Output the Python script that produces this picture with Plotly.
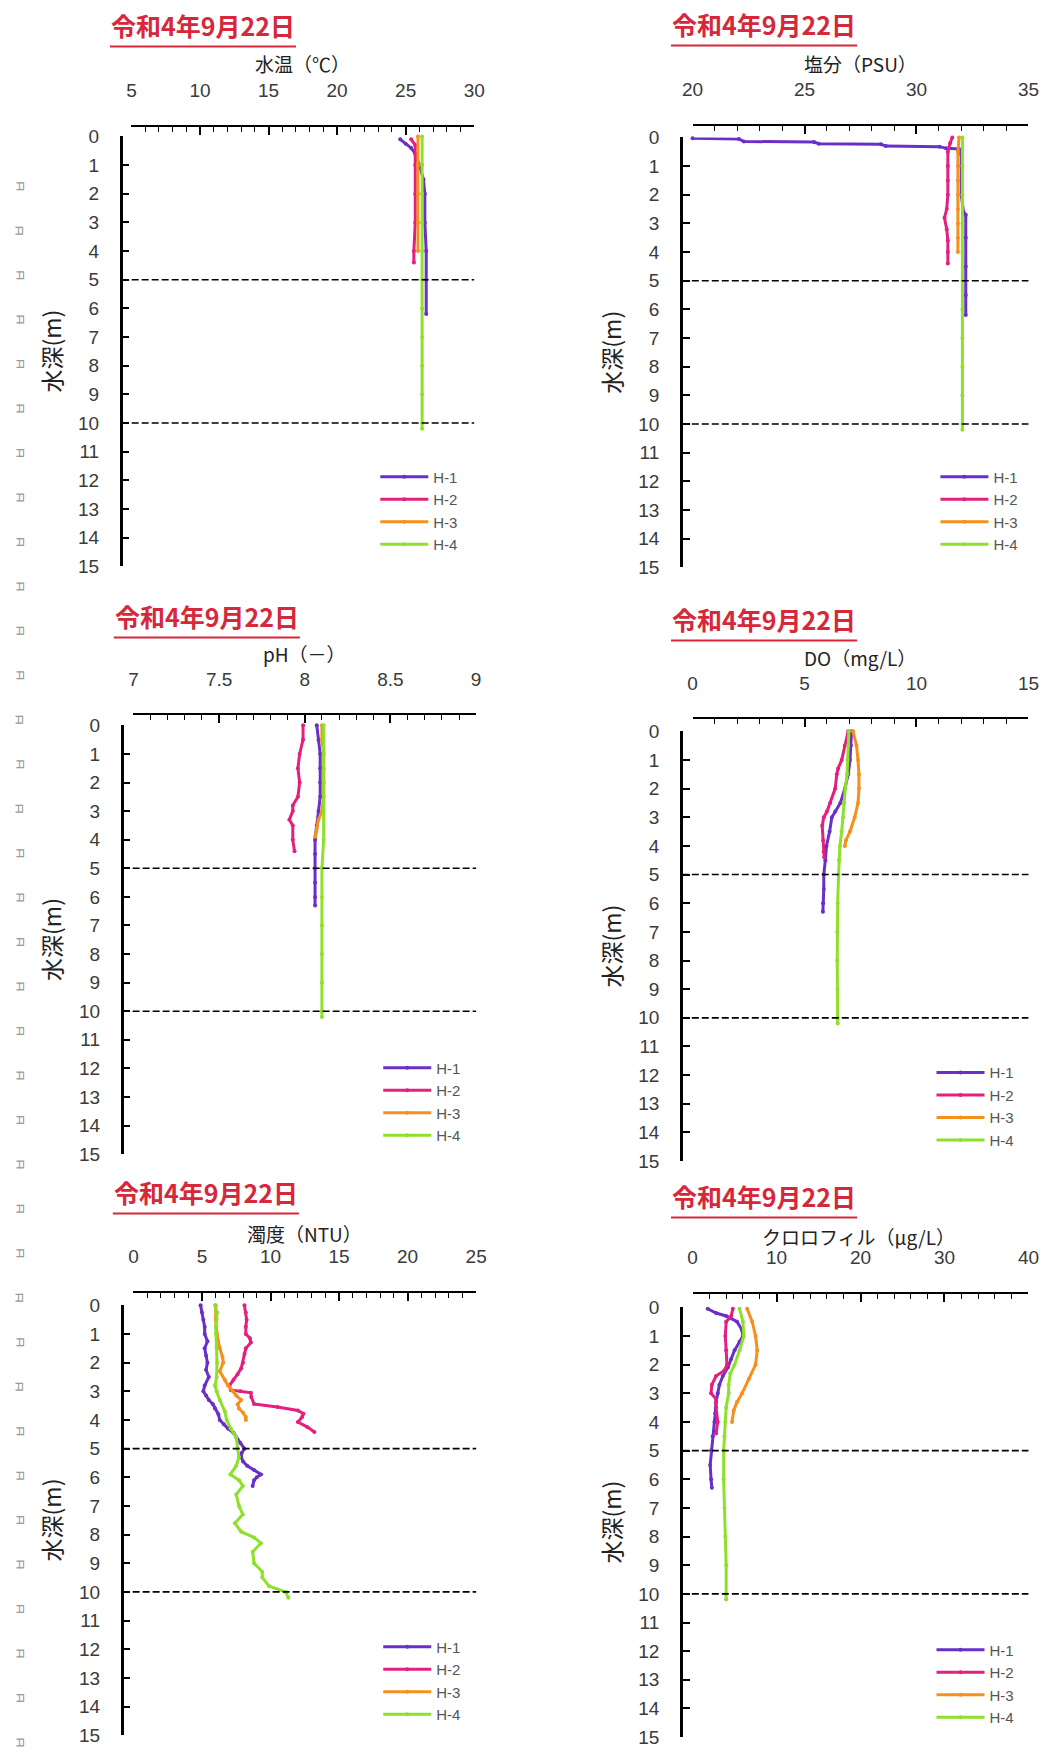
import plotly.graph_objects as go

W, H = 1061, 1760


def px(x):
    return x / W


def py(y):
    return 1 - y / H


# ---------------- data ----------------
STATIONS = ["H-1", "H-2", "H-3", "H-4"]
DATE_LABEL = "令和4年9月22日"
DEPTH_LABEL = "水深(m)"
DEPTH_TICKS = list(range(0, 16))
REF_DEPTHS = [5, 10]

PARAM_TITLES = ["水温（℃）", "塩分（PSU）", "pH（－）", "DO（mg/L）", "濁度（NTU）", "クロロフィル（μg/L）"]
X_RANGES = [[5, 30], [20, 35], [7, 9], [0, 15], [0, 25], [0, 40]]
X_MAJOR = [5, 5, 0.5, 5, 5, 10]
X_MINOR = [1, 1, 0.1, 1, 1, 2]

# 水温 (°C)
T_H1_D = [0.1, 0.25, 0.4, 0.6, 1.0, 1.5, 2.0, 3.0, 4.0, 5.0, 6.2]
T_H1 = [24.6, 25.0, 25.4, 25.7, 26.0, 26.3, 26.4, 26.4, 26.5, 26.5, 26.5]
T_H2_D = [0.1, 0.3, 1.0, 2.0, 3.0, 4.0, 4.4]
T_H2 = [25.4, 25.7, 25.7, 25.7, 25.7, 25.6, 25.6]
T_H3_D = [0.0, 1.0, 2.0, 3.0, 4.0]
T_H3 = [25.9, 25.9, 25.9, 25.9, 25.9]
T_H4_D = [0.0, 1.0, 2.0, 3.0, 4.0, 5.0, 6.0, 7.0, 8.0, 9.0, 10.0, 10.2]
T_H4 = [26.2, 26.2, 26.2, 26.2, 26.2, 26.2, 26.2, 26.2, 26.2, 26.2, 26.2, 26.2]

# 塩分 (PSU)
S_H1_D = [0.03, 0.05, 0.14, 0.16, 0.22, 0.24, 0.30, 0.32, 0.38, 0.40, 0.6, 1.0, 2.0, 2.6, 2.7, 3.5, 4.5, 5.5, 6.2]
S_H1 = [20.0, 22.07, 22.29, 25.42, 25.64, 28.41, 28.63, 31.03, 31.32, 31.9, 32.0, 32.0, 32.0, 32.1, 32.2, 32.2, 32.2, 32.2, 32.2]
S_H2_D = [0.0, 0.2, 0.5, 1.0, 1.5, 2.0, 2.5, 2.8, 3.2, 3.6, 4.0, 4.4]
S_H2 = [31.6, 31.5, 31.4, 31.4, 31.4, 31.4, 31.35, 31.25, 31.35, 31.4, 31.4, 31.4]
S_H3_D = [0.0, 0.5, 1.0, 1.5, 2.0, 2.5, 3.0, 3.5, 4.0]
S_H3 = [31.9, 31.85, 31.85, 31.85, 31.85, 31.85, 31.85, 31.85, 31.85]
S_H4_D = [0.0, 1.0, 2.0, 3.0, 4.0, 5.0, 6.0, 7.0, 8.0, 9.0, 10.0, 10.2]
S_H4 = [32.05, 32.05, 32.05, 32.05, 32.05, 32.05, 32.05, 32.05, 32.05, 32.05, 32.05, 32.05]

# pH (-)
P_H1_D = [0.0, 0.5, 1.0, 1.5, 2.0, 2.5, 3.0, 3.5, 4.0, 4.5, 5.0, 5.5, 6.0, 6.3]
P_H1 = [8.07, 8.08, 8.09, 8.09, 8.09, 8.09, 8.08, 8.07, 8.06, 8.06, 8.06, 8.06, 8.06, 8.06]
P_H2_D = [0.0, 0.5, 1.0, 1.5, 2.0, 2.5, 2.8, 3.0, 3.3, 3.5, 4.0, 4.4]
P_H2 = [7.99, 7.99, 7.97, 7.96, 7.97, 7.96, 7.93, 7.93, 7.91, 7.93, 7.93, 7.94]
P_H3_D = [0.0, 0.5, 1.0, 1.5, 2.0, 2.5, 3.0, 3.3, 3.6, 3.9]
P_H3 = [8.10, 8.10, 8.11, 8.11, 8.11, 8.11, 8.10, 8.08, 8.07, 8.06]
P_H4_D = [0.0, 1.0, 2.0, 3.0, 4.0, 5.0, 6.0, 7.0, 8.0, 9.0, 10.0, 10.2]
P_H4 = [8.11, 8.11, 8.11, 8.11, 8.11, 8.10, 8.10, 8.10, 8.10, 8.10, 8.10, 8.10]

# DO (mg/L)
D_H1_D = [0.0, 0.5, 1.0, 1.5, 2.0, 2.5, 2.8, 3.0, 3.5, 4.0, 4.5, 5.0, 5.5, 6.0, 6.3]
D_H1 = [7.1, 7.07, 7.03, 6.95, 6.8, 6.6, 6.37, 6.22, 6.12, 5.98, 5.93, 5.86, 5.86, 5.83, 5.82]
D_H2_D = [0.0, 0.5, 1.0, 1.3, 1.5, 2.0, 2.5, 2.8, 3.0, 3.3, 3.8, 4.2, 4.4]
D_H2 = [6.95, 6.8, 6.66, 6.5, 6.44, 6.37, 6.15, 6.0, 5.86, 5.79, 5.83, 5.86, 5.88]
D_H3_D = [0.0, 0.5, 1.0, 1.5, 2.0, 2.5, 3.0, 3.5, 3.8, 4.0]
D_H3 = [7.17, 7.32, 7.39, 7.43, 7.43, 7.39, 7.24, 7.03, 6.85, 6.8]
D_H4_D = [0.0, 0.5, 1.0, 1.5, 2.0, 2.5, 3.0, 3.5, 4.0, 4.5, 5.0, 6.0, 7.0, 8.0, 9.0, 10.0, 10.2]
D_H4 = [6.98, 6.95, 6.92, 6.9, 6.82, 6.77, 6.72, 6.66, 6.58, 6.54, 6.52, 6.48, 6.46, 6.46, 6.47, 6.48, 6.48]

# 濁度 (NTU)
N_H1_D = [0.0, 0.25, 0.5, 0.75, 1.0, 1.25, 1.5, 1.75, 2.0, 2.25, 2.5, 2.8, 3.0, 3.15, 3.3, 3.45, 3.6,
          3.8, 4.0, 4.15, 4.3, 4.45, 4.6, 4.8, 5.0, 5.15, 5.3, 5.45, 5.6, 5.75, 5.9, 6.0, 6.1, 6.3]
N_H1 = [4.9, 5.0, 5.1, 5.2, 5.2, 5.4, 5.2, 5.3, 5.4, 5.3, 5.5, 5.2, 5.1, 5.3, 5.5, 5.8, 5.95,
        6.2, 6.3, 6.6, 6.9, 7.3, 7.5, 7.8, 8.1, 7.9, 7.86, 8.0, 8.3, 8.8, 9.3, 9.0, 8.8, 8.7]
N_H2_D = [0.0, 0.25, 0.5, 0.75, 1.0, 1.15, 1.3, 1.5, 1.7, 2.0, 2.2, 2.4, 2.6, 2.8, 2.95, 3.0, 3.05,
          3.2, 3.44, 3.55, 3.67, 3.78, 3.9, 4.07, 4.25, 4.42]
N_H2 = [8.1, 8.2, 8.26, 8.2, 8.2, 8.5, 8.57, 8.2, 8.1, 8.0, 7.86, 7.6, 7.3, 7.0, 7.1, 7.8, 8.57,
        8.6, 8.8, 10.5, 12.0, 12.4, 12.3, 12.0, 12.7, 13.2]
N_H3_D = [0.0, 0.5, 1.0, 1.5, 1.8, 2.0, 2.3, 2.6, 2.8, 3.0, 3.15, 3.3, 3.45, 3.6, 3.75, 3.9, 4.0]
N_H3 = [6.0, 6.0, 6.1, 6.3, 6.5, 6.55, 6.3, 6.67, 6.9, 7.26, 7.5, 7.86, 7.6, 7.7, 8.0, 8.2, 8.2]
N_H4_D = [0.0, 0.25, 0.5, 0.75, 1.0, 1.5, 2.0, 2.5, 2.8, 3.0, 3.3, 3.7, 4.0, 4.3, 4.6, 5.0, 5.3, 5.6,
          5.9, 6.1, 6.3, 6.6, 7.0, 7.3, 7.6, 7.9, 8.1, 8.3, 8.6, 9.0, 9.3, 9.5, 9.8, 10.0, 10.2]
N_H4 = [5.95, 6.1, 6.07, 6.0, 6.02, 6.07, 6.1, 6.07, 5.95, 6.07, 6.3, 6.67, 6.8, 7.1, 7.5, 7.6, 7.7, 7.5,
        7.07, 7.7, 7.98, 7.5, 7.7, 7.98, 7.4, 7.86, 8.8, 9.3, 8.7, 8.8, 9.4, 9.4, 9.9, 11.1, 11.3]

# クロロフィル (μg/L)
C_H1_D = [0.05, 0.2, 0.3, 0.5, 0.8, 1.0, 1.2, 1.5, 1.8, 2.1, 2.4, 2.7, 3.0, 3.3, 3.7, 4.0, 4.5, 5.0, 5.5, 6.0, 6.3]
C_H1 = [1.8, 2.8, 4.0, 5.3, 5.9, 6.0, 5.6, 5.0, 4.6, 4.2, 3.6, 3.2, 3.0, 2.8, 2.7, 2.6, 2.4, 2.2, 2.1, 2.2, 2.3]
C_H2_D = [0.05, 0.3, 0.5, 1.0, 1.5, 2.0, 2.2, 2.4, 2.7, 3.0, 3.2, 3.5, 4.0, 4.4]
C_H2 = [4.8, 4.6, 4.0, 3.9, 4.0, 4.1, 3.8, 2.8, 2.3, 2.2, 2.8, 2.8, 3.0, 2.8]
C_H3_D = [0.05, 0.5, 1.0, 1.5, 2.0, 2.5, 3.0, 3.3, 3.6, 4.0]
C_H3 = [6.5, 7.1, 7.5, 7.7, 7.5, 6.7, 5.9, 5.3, 4.9, 4.7]
C_H4_D = [0.05, 0.5, 1.0, 1.5, 2.0, 2.3, 2.7, 3.0, 3.5, 4.0, 4.5, 5.0, 6.0, 7.0, 8.0, 9.0, 10.0, 10.2]
C_H4 = [5.6, 6.0, 6.1, 5.6, 5.0, 4.5, 4.3, 4.3, 4.0, 3.9, 3.8, 3.7, 3.7, 3.8, 3.9, 4.0, 4.0, 4.0]

PANEL_VALUES = [
    [T_H1, T_H2, T_H3, T_H4],
    [S_H1, S_H2, S_H3, S_H4],
    [P_H1, P_H2, P_H3, P_H4],
    [D_H1, D_H2, D_H3, D_H4],
    [N_H1, N_H2, N_H3, N_H4],
    [C_H1, C_H2, C_H3, C_H4],
]
PANEL_DEPTHS = [
    [T_H1_D, T_H2_D, T_H3_D, T_H4_D],
    [S_H1_D, S_H2_D, S_H3_D, S_H4_D],
    [P_H1_D, P_H2_D, P_H3_D, P_H4_D],
    [D_H1_D, D_H2_D, D_H3_D, D_H4_D],
    [N_H1_D, N_H2_D, N_H3_D, N_H4_D],
    [C_H1_D, C_H2_D, C_H3_D, C_H4_D],
]

# ---------------- style / layout ----------------
COLORS = ["#6a2fc8", "#e3207e", "#f5901e", "#8fe02a"]
RED = "#d6283a"
JP = "Noto Sans CJK JP"
NUM = "Liberation Sans, Arial, sans-serif"
CJK_SHIFT = 9  # CJK font sits lower than its nominal centre

# (y-axis x, y of depth 0, y of depth 15, x-axis y, x-axis left, x-axis right) in pixels
GEOM = [
    (112, 128, 563, 117, 123, 473),
    (684, 129, 564, 116, 696, 1039),
    (113, 724, 1158, 713, 125, 475),
    (684, 730, 1165, 717, 696, 1039),
    (113, 1311, 1746, 1297, 125, 475),
    (684, 1313, 1748, 1298, 696, 1039),
]
DATE_POS = [(196, 24), (769, 23), (200, 622), (769, 625), (199, 1205), (769, 1209)]
XTITLE_POS = [(298, 63), (867, 63), (300, 660), (867, 664), (300, 1247), (865, 1250)]
YTITLE_X = [50, 622, 50, 622, 50, 622]
LEGEND_POS = [(380, 475), (952, 475), (383, 1073), (948, 1078), (383, 1659), (948, 1662)]

fig = go.Figure()
layout = dict(
    width=W, height=H, autosize=False,
    margin=dict(l=0, r=0, t=0, b=0),
    paper_bgcolor="white", plot_bgcolor="white",
    showlegend=True,
)
shapes = []
annotations = []

for k in range(6):
    sfx = "" if k == 0 else str(k + 1)
    xa, ya = "x" + sfx, "y" + sfx
    lg = "legend" + sfx
    for s in range(4):
        fig.add_trace(go.Scatter(
            x=PANEL_VALUES[k][s], y=PANEL_DEPTHS[k][s],
            xaxis=xa, yaxis=ya, legend=lg, name=STATIONS[s],
            mode="lines+markers", cliponaxis=False,
            line=dict(color=COLORS[s], width=3),
            marker=dict(size=4, color=COLORS[s]),
        ))

    yx, y0, y15, xy, xl, xr = GEOM[k]
    layout["xaxis" + sfx] = dict(
        domain=[px(xl), px(xr)], anchor="free", position=py(xy), side="top",
        range=X_RANGES[k], tick0=X_RANGES[k][0], dtick=X_MAJOR[k],
        ticks="inside", ticklen=8, tickwidth=1.5, tickcolor="black",
        showline=True, linecolor="black", linewidth=2,
        showgrid=False, zeroline=False, ticklabelstandoff=20,
        tickfont=dict(family=NUM, size=19, color="#3a3a3a"),
        minor=dict(ticks="inside", ticklen=5, tickwidth=1.3, tickcolor="black",
                   dtick=X_MINOR[k], tick0=X_RANGES[k][0], showgrid=False),
        fixedrange=True,
    )
    layout["yaxis" + sfx] = dict(
        domain=[py(y15), py(y0)], anchor="free", position=px(yx), side="left",
        range=[15, 0], tickmode="array", tickvals=DEPTH_TICKS,
        ticks="inside", ticklen=7, tickwidth=2, tickcolor="black",
        showline=True, linecolor="black", linewidth=2.5,
        showgrid=False, zeroline=False, ticklabelstandoff=17,
        tickfont=dict(family=NUM, size=19, color="#3a3a3a"),
        fixedrange=True,
    )
    for d in REF_DEPTHS:
        shapes.append(dict(type="line", xref="paper", yref=ya,
                           x0=px(yx + 1), x1=px(xr), y0=d, y1=d,
                           line=dict(color="black", width=1.6, dash="7px,3px")))

    cx, cy = DATE_POS[k]
    annotations.append(dict(text="<b>" + DATE_LABEL + "</b>", xref="paper", yref="paper",
                            x=px(cx), y=py(cy - CJK_SHIFT), xanchor="center", yanchor="middle",
                            showarrow=False, font=dict(family=JP, size=25, color=RED)))
    shapes.append(dict(type="line", xref="paper", yref="paper",
                       x0=px(cx - 95), x1=px(cx + 95), y0=py(cy + 13), y1=py(cy + 13),
                       line=dict(color=RED, width=2)))

    tx, ty = XTITLE_POS[k]
    annotations.append(dict(text=PARAM_TITLES[k], xref="paper", yref="paper",
                            x=px(tx), y=py(ty - CJK_SHIFT), xanchor="center", yanchor="middle",
                            showarrow=False, font=dict(family=JP, size=19, color="#222")))
    annotations.append(dict(text=DEPTH_LABEL, xref="paper", yref="paper", textangle=-90,
                            x=px(YTITLE_X[k] - CJK_SHIFT), y=py((y0 + y15) / 2), xanchor="center", yanchor="middle",
                            showarrow=False, font=dict(family=JP, size=23, color="#222")))

    lx, ly = LEGEND_POS[k]
    layout[lg] = dict(
        x=px(lx - 8), y=py(ly - 19), xanchor="left", yanchor="top",
        bgcolor="rgba(0,0,0,0)", borderwidth=0, tracegroupgap=0, itemwidth=48,
        font=dict(family=NUM, size=15, color="#555"),
    )

# faint marks along the left page edge (scan artefacts)
for i in range(36):
    annotations.append(dict(text="ㅂ", xref="paper", yref="paper", textangle=-90,
                            x=px(8), y=py(178 + 45 * i), xanchor="center", yanchor="middle",
                            showarrow=False, font=dict(family="Noto Sans CJK KR", size=14, color="#9a9a9a")))

layout["shapes"] = shapes
layout["annotations"] = annotations
fig.update_layout(**layout)
fig.write_html("out.html")
